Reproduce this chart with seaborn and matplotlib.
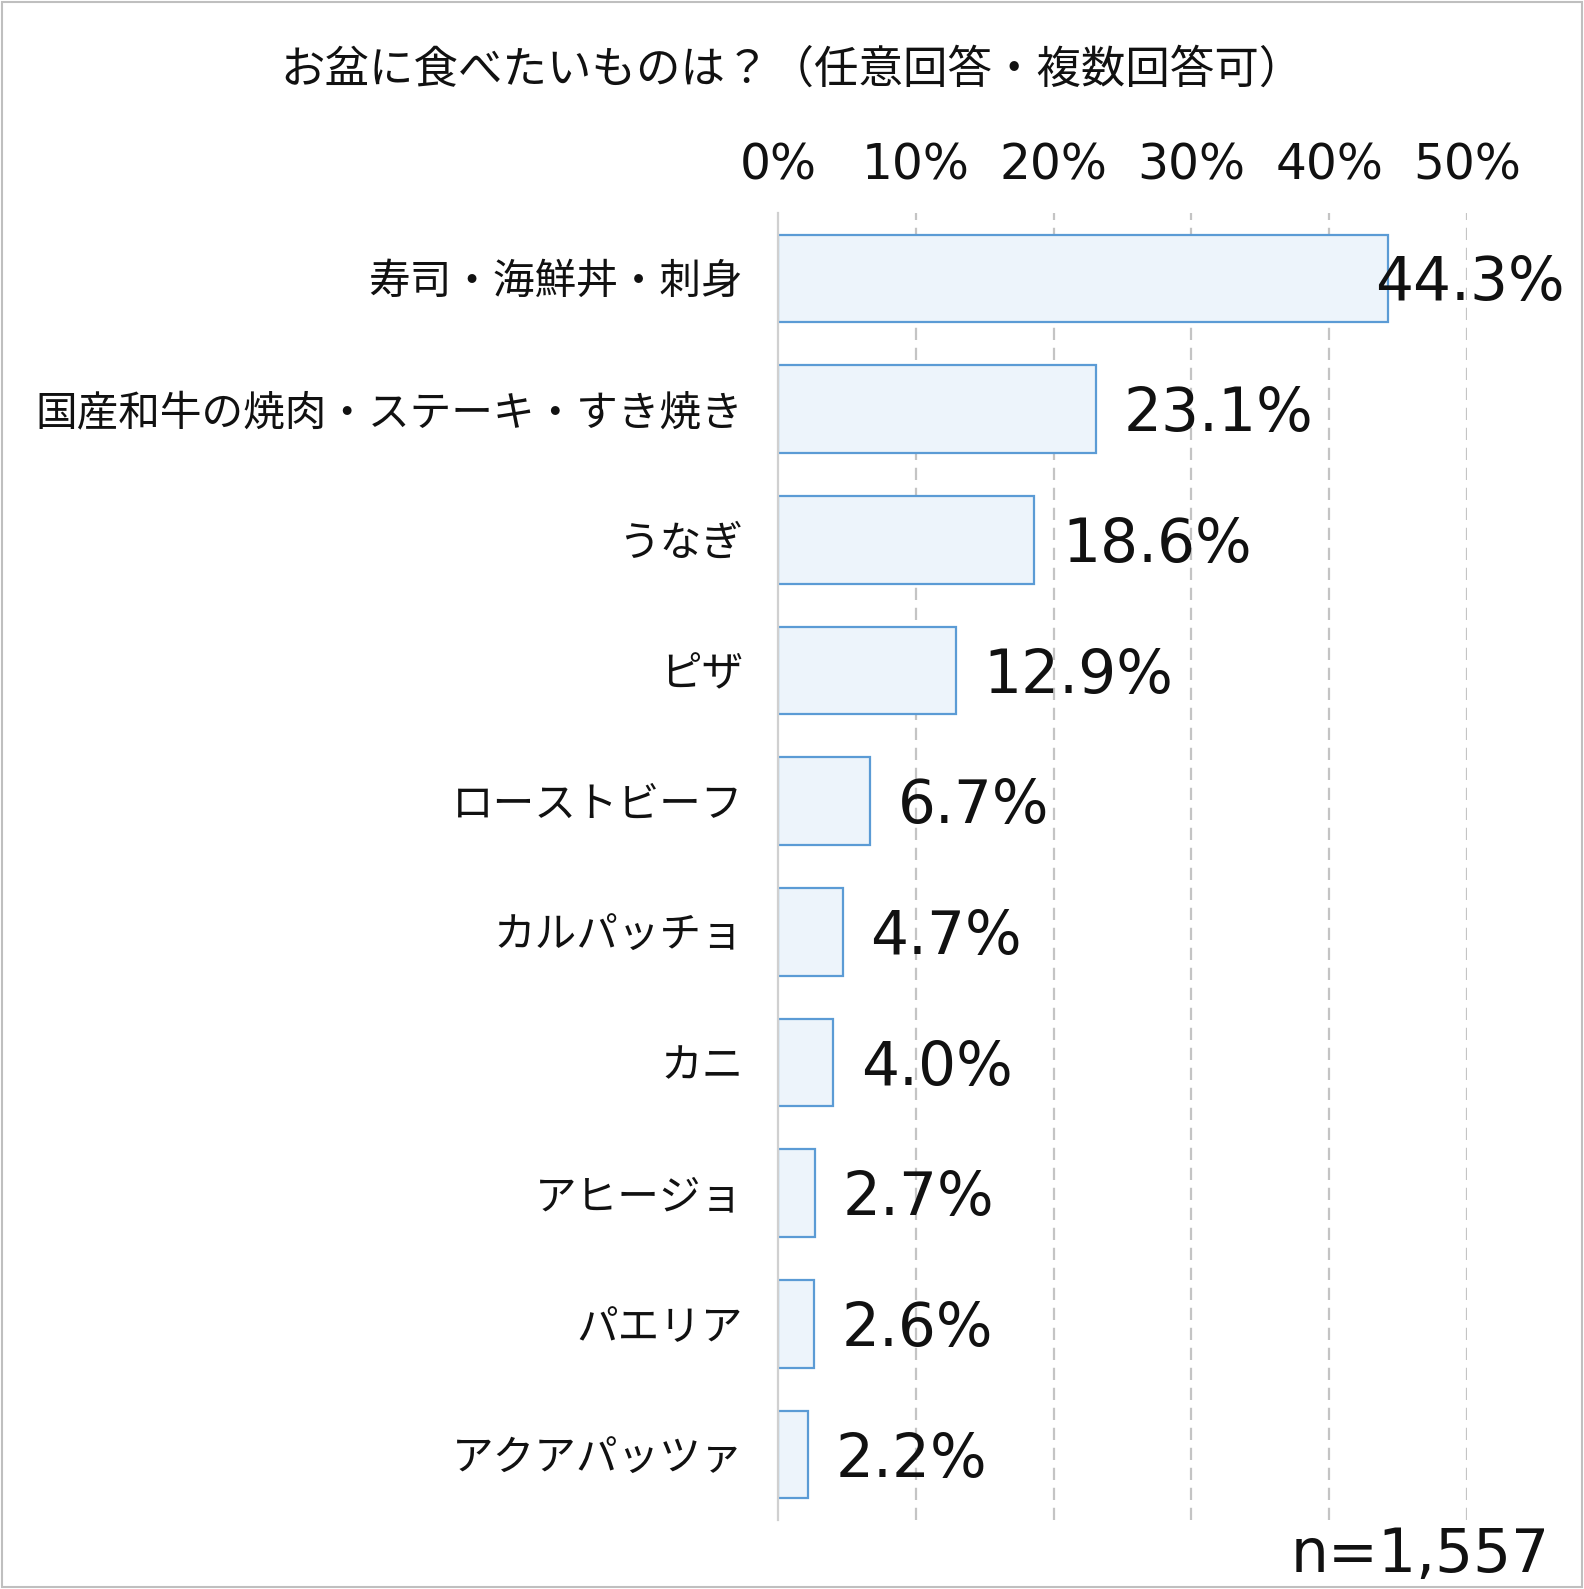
import matplotlib
matplotlib.use('Agg')
import matplotlib.pyplot as plt
import seaborn as sns
import pandas as pd
from matplotlib.patches import Rectangle

foods = ['寿司・海鮮丼・刺身', '国産和牛の焼肉・ステーキ・すき焼き', 'うなぎ', 'ピザ',
         'ローストビーフ', 'カルパッチョ', 'カニ', 'アヒージョ', 'パエリア', 'アクアパッツァ']
share = [44.3, 23.1, 18.6, 12.9, 6.7, 4.7, 4.0, 2.7, 2.6, 2.2]
ticks = [0, 10, 20, 30, 40, 50]
tick_labels = ['0%', '10%', '20%', '30%', '40%', '50%']
title = 'お盆に食べたいものは？（任意回答・複数回答可）'
n_note = 'n=1,557'

df = pd.DataFrame({'food': foods, 'share': share})

sns.set_style('white')
plt.rcParams['font.family'] = ['Noto Sans CJK JP', 'DejaVu Sans']
plt.rcParams['text.color'] = '#111111'
num_font = ['DejaVu Sans']

fig = plt.figure(figsize=(15.84, 15.89), dpi=100)
ax = fig.add_axes([778/1584, 1-1520/1589, (1467-778)/1584, (1520-213)/1589])

sns.barplot(data=df, x='share', y='food', orient='h', ax=ax, width=0.67,
            color='#EDF4FB', edgecolor='#5B9BD5', linewidth=1.6, saturation=1)

ax.set_xlim(0, 50)
ax.set_ylim(9.5, -0.5)
ax.set_xticks(ticks)
ax.set_xticklabels(tick_labels, family=num_font, fontsize=35)
ax.xaxis.tick_top()
ax.tick_params(axis='x', length=0, pad=17, labelcolor='#111111')
ax.tick_params(axis='y', length=0, pad=25, labelsize=30, labelcolor='#111111')
ax.set_xlabel('')
ax.set_ylabel('')
for s in ['top', 'right', 'bottom']:
    ax.spines[s].set_visible(False)
ax.spines['left'].set_color('#D0D0D0')
ax.spines['left'].set_linewidth(1.6)
for t in ticks[1:]:
    ax.axvline(t, color='#C4C4C4', linestyle=(0, (5.5, 3.5)), linewidth=1.6, zorder=0)

for i, v in enumerate(share):
    off = -10 if v > 40 else 20
    ax.annotate(f'{v:.1f}%', (v, i), xytext=(off, -4), textcoords='offset points',
                ha='left', va='center', fontsize=43, color='#111111',
                family=num_font, annotation_clip=False)

fig.text(0.5, 1-70/1589, title, ha='center', va='center', fontsize=32)
fig.text(1550/1584, 1-1572/1589, n_note, ha='right', va='baseline', fontsize=43,
         family=num_font)

fig.patches.append(Rectangle((0.001, 0.001), 0.998, 0.998, transform=fig.transFigure,
                             fill=False, edgecolor='#BFBFBF', linewidth=1.5))

fig.savefig('out.png', dpi=100)
